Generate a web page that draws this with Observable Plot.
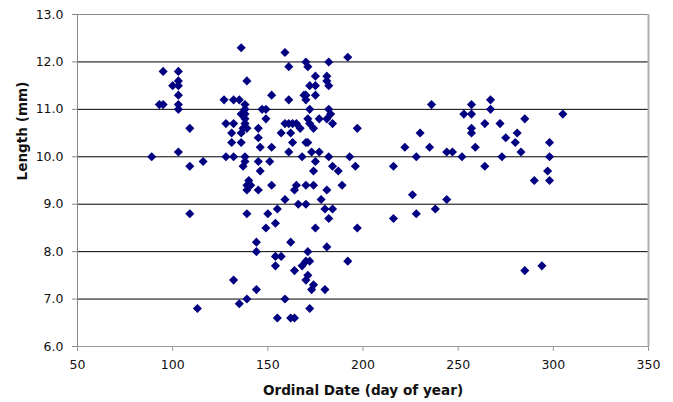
<!DOCTYPE html>
<html>
<head>
<meta charset="utf-8">
<script src="https://cdn.jsdelivr.net/npm/d3@7"></script>
<script src="https://cdn.jsdelivr.net/npm/@observablehq/plot@0.6"></script>
<style>
  html, body { margin: 0; padding: 0; background: #fff; }
  #chart svg { display: block; }
</style>
</head>
<body>
<div id="chart"></div>
<script>
// Ordinal date (day of year)
const days = [
  89, 93, 95, 95, 100, 103, 103, 103, 103, 103, 103, 103, 109, 109, 109, 113, 116,
  127, 132, 135, 136, 139, 138, 138, 136, 138, 138, 138, 139, 137, 128, 132, 131, 136, 131, 136,
  128, 132, 138, 138, 137, 140, 139, 141, 139, 139, 132, 139, 135,
  145, 145, 146, 152, 147, 149, 149, 152, 145, 146, 151, 145, 152, 150, 155, 154, 149, 144, 144, 144, 154, 157, 154, 155,
  159, 161, 161, 159, 161, 163, 165, 157, 162, 167, 163, 161, 168, 165, 164, 159, 166, 162, 164, 159, 162, 164,
  170, 171, 175, 172, 175, 169, 170, 175, 170, 172, 171, 172, 174, 170, 171, 173, 177, 175, 174, 170, 174, 170, 178, 175, 171, 168, 170, 172, 171, 170, 174, 173, 172, 177,
  182, 181, 181, 182, 182, 183, 181, 184, 182, 184, 187, 181, 189, 180, 184, 182, 181, 180, 192, 192, 193, 196, 197, 197,
  216, 216, 222, 226, 228, 228, 230, 235, 236, 238, 244, 244, 247, 252,
  253, 257, 257, 257, 257, 259, 264, 264, 267, 267, 272, 273, 275, 280, 281, 283, 285, 285, 290, 294, 297, 298, 298, 298, 305
];
// Length (mm)
const lengths = [
  10.0, 11.1, 11.1, 11.8, 11.5, 11.8, 11.6, 11.5, 11.3, 11.1, 11.0, 10.1, 10.6, 9.8, 8.8, 6.8, 9.9,
  11.2, 11.2, 11.2, 12.3, 11.6, 11.1, 11.0, 10.9, 10.9, 10.8, 10.7, 10.6, 10.6, 10.7, 10.7, 10.5, 10.5, 10.3, 10.3,
  10.0, 10.0, 10.0, 9.9, 9.8, 9.5, 9.4, 9.4, 9.3, 8.8, 7.4, 7.0, 6.9,
  10.6, 10.4, 10.2, 10.2, 11.0, 11.0, 10.8, 11.3, 9.9, 9.7, 9.9, 9.3, 9.4, 8.8, 8.9, 8.6, 8.5, 8.2, 8.0, 7.2, 7.9, 7.9, 7.7, 6.6,
  12.2, 11.9, 11.2, 10.7, 10.7, 10.7, 10.7, 10.5, 10.5, 10.6, 10.3, 10.1, 10.0, 9.4, 9.3, 9.1, 9.0, 8.2, 7.6, 7.0, 6.6, 6.6,
  12.0, 11.9, 11.7, 11.5, 11.5, 11.3, 11.3, 11.3, 11.2, 11.0, 10.8, 10.7, 10.6, 10.3, 10.3, 10.1, 10.1, 9.9, 9.7, 9.4, 9.4, 9.0, 9.1, 8.5, 8.0, 7.7, 7.8, 7.8, 7.5, 7.4, 7.3, 7.2, 6.8, 10.8,
  12.0, 11.7, 11.6, 11.5, 11.0, 10.9, 10.8, 10.7, 10.0, 9.8, 9.7, 9.3, 9.4, 8.9, 8.9, 8.7, 8.1, 7.2, 7.8, 12.1, 10.0, 9.8, 10.6, 8.5,
  9.8, 8.7, 10.2, 9.2, 10.0, 8.8, 10.5, 10.2, 11.1, 8.9, 10.1, 9.1, 10.1, 10.0,
  10.9, 10.9, 11.1, 10.6, 10.5, 10.2, 10.7, 9.8, 11.2, 11.0, 10.7, 10.0, 10.4, 10.3, 10.5, 10.1, 10.8, 7.6, 9.5, 7.7, 9.7, 10.3, 10.0, 9.5, 10.9
];
const xTicks = [50, 100, 150, 200, 250, 300, 350];
const yTicks = [6, 7, 8, 9, 10, 11, 12, 13];
const gridLines = [7, 8, 9, 10, 11, 12];
const xTitle = "Ordinal Date (day of year)";
const yTitle = "Length (mm)";

const data = days.map((d, i) => ({day: d, len: lengths[i]}));

const chart = Plot.plot({
  width: 673,
  height: 402,
  marginLeft: 77,
  marginRight: 25,
  marginTop: 14,
  marginBottom: 56,
  style: {fontFamily: "'DejaVu Sans', Verdana, sans-serif", fontSize: "12.5px", background: "#fff", color: "#000"},
  x: {domain: [50, 350]},
  y: {domain: [6, 13]},
  marks: [
    Plot.ruleY(gridLines, {stroke: "#000", strokeWidth: 1}),
    Plot.ruleY([13], {stroke: "#888", strokeWidth: 1}),
    Plot.ruleX([350], {stroke: "#b0b0b0", strokeWidth: 2}),
    Plot.ruleX([50], {stroke: "#888", strokeWidth: 1}),
    Plot.ruleY([6], {stroke: "#999", strokeWidth: 1}),
    Plot.axisY(yTicks, {tickSize: 5, tickPadding: 9, tickFormat: d3.format(".1f"), stroke: "#888", fill: "#111", label: null}),
    Plot.axisX(xTicks, {tickSize: 5, tickPadding: 9, tickFormat: d => String(d), stroke: "#999", fill: "#111", label: null}),
    Plot.dot(data, {x: "day", y: "len", symbol: "diamond2", r: 4.1, fill: "#000080", stroke: "none"}),
    Plot.text([xTitle], {frameAnchor: "bottom", lineAnchor: "middle", dy: 44, fontWeight: "bold", fontSize: 13.6, fill: "#111"}),
    Plot.text([yTitle], {frameAnchor: "left", lineAnchor: "middle", rotate: -90, dx: -55, fontWeight: "bold", fontSize: 13.6, fill: "#111"})
  ]
});
document.getElementById("chart").appendChild(chart);
</script>
</body>
</html>
